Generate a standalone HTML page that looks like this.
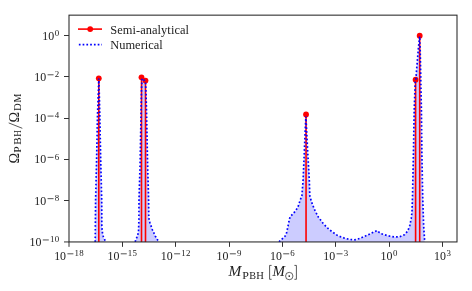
<!DOCTYPE html>
<html><head><meta charset="utf-8"><title>PBH abundance</title>
<style>
html,body{margin:0;padding:0;background:#fff;}
body{width:472px;height:291px;overflow:hidden;position:relative;font-family:"Liberation Serif",serif;}
.t{font-family:"Liberation Serif",serif;fill:#222;}
</style></head><body>
<svg width="472" height="291" viewBox="0 0 472 291" style="position:absolute;left:0;top:0;will-change:transform;opacity:0.999">
<rect x="0" y="0" width="472" height="291" fill="#fff"/>
<defs><clipPath id="ax"><rect x="69.0" y="15.15" width="388.0" height="226.79999999999998"/></clipPath></defs>
<g clip-path="url(#ax)">
<polygon points="95.2,241.9 95.3,232.0 95.6,200.0 96.6,160.0 97.5,115.0 98.4,90.0 98.8,78.6 99.2,90.0 99.8,115.0 100.7,160.0 101.7,200.0 101.8,226.0 102.3,232.0 103.4,237.0 105.8,241.9" fill="#0000ff" fill-opacity="0.2" stroke="none"/>
<polygon points="135.1,241.9 136.2,239.0 137.6,235.5 138.5,232.0 138.9,220.0 139.0,200.0 140.2,160.0 141.0,115.0 141.5,90.0 142.0,78.5 143.5,79.5 145.5,81.5 146.1,95.0 146.6,115.0 147.5,160.0 148.6,200.0 148.8,218.0 150.0,223.0 152.5,230.0 155.5,236.5 158.8,241.9" fill="#0000ff" fill-opacity="0.2" stroke="none"/>
<polygon points="279.0,241.9 281.5,239.5 284.5,236.8 286.1,234.8 287.0,231.0 287.8,227.2 288.8,222.0 290.0,217.0 292.5,214.2 295.4,211.1 298.0,206.9 300.2,200.1 301.9,195.8 303.1,180.0 304.4,150.0 305.3,128.0 305.9,116.5 306.5,128.0 307.6,150.0 309.3,180.0 309.8,195.8 311.5,201.8 314.4,209.4 318.3,217.0 323.4,223.8 329.3,229.7 337.8,235.7 344.6,238.2 349.7,239.4 353.6,239.9 356.5,239.5 360.3,238.2 367.1,235.3 373.9,232.0 376.9,230.6 380.7,233.6 387.5,235.7 394.2,237.0 399.3,236.9 404.4,234.8 407.8,230.9 409.8,225.5 411.2,218.7 412.0,212.0 412.5,197.0 413.4,155.0 414.2,110.0 415.2,82.0 415.9,79.0 417.0,65.0 418.5,47.0 419.7,36.5 420.2,50.0 420.8,80.0 421.4,110.0 421.9,155.0 422.7,197.0 423.6,225.0 424.7,241.9" fill="#0000ff" fill-opacity="0.2" stroke="none"/>
<line x1="98.8" y1="243.95" x2="98.8" y2="78.3" stroke="#ff0000" stroke-width="1.6"/>
<line x1="141.5" y1="243.95" x2="141.5" y2="77.3" stroke="#ff0000" stroke-width="1.6"/>
<line x1="145.5" y1="243.95" x2="145.5" y2="80.6" stroke="#ff0000" stroke-width="1.6"/>
<line x1="306.05" y1="243.95" x2="306.05" y2="114.5" stroke="#ff0000" stroke-width="1.6"/>
<line x1="415.6" y1="243.95" x2="415.6" y2="79.7" stroke="#ff0000" stroke-width="1.6"/>
<line x1="419.7" y1="243.95" x2="419.7" y2="35.7" stroke="#ff0000" stroke-width="1.6"/>
</g>
<circle cx="98.8" cy="78.3" r="2.9" fill="#ff0000"/>
<circle cx="141.5" cy="77.3" r="2.9" fill="#ff0000"/>
<circle cx="145.5" cy="80.6" r="2.9" fill="#ff0000"/>
<circle cx="306.05" cy="114.5" r="2.9" fill="#ff0000"/>
<circle cx="415.6" cy="79.7" r="2.9" fill="#ff0000"/>
<circle cx="419.7" cy="35.7" r="2.9" fill="#ff0000"/>
<g clip-path="url(#ax)">
<polyline points="95.2,241.9 95.3,232.0 95.6,200.0 96.6,160.0 97.5,115.0 98.4,90.0 98.8,78.6 99.2,90.0 99.8,115.0 100.7,160.0 101.7,200.0 101.8,226.0 102.3,232.0 103.4,237.0 105.8,241.9" fill="none" stroke="#0000ff" stroke-width="1.7" stroke-dasharray="1.7 2.07"/>
<polyline points="135.1,241.9 136.2,239.0 137.6,235.5 138.5,232.0 138.9,220.0 139.0,200.0 140.2,160.0 141.0,115.0 141.5,90.0 142.0,78.5 143.5,79.5 145.5,81.5 146.1,95.0 146.6,115.0 147.5,160.0 148.6,200.0 148.8,218.0 150.0,223.0 152.5,230.0 155.5,236.5 158.8,241.9" fill="none" stroke="#0000ff" stroke-width="1.7" stroke-dasharray="1.7 2.07"/>
<polyline points="279.0,241.9 281.5,239.5 284.5,236.8 286.1,234.8 287.0,231.0 287.8,227.2 288.8,222.0 290.0,217.0 292.5,214.2 295.4,211.1 298.0,206.9 300.2,200.1 301.9,195.8 303.1,180.0 304.4,150.0 305.3,128.0 305.9,116.5 306.5,128.0 307.6,150.0 309.3,180.0 309.8,195.8 311.5,201.8 314.4,209.4 318.3,217.0 323.4,223.8 329.3,229.7 337.8,235.7 344.6,238.2 349.7,239.4 353.6,239.9 356.5,239.5 360.3,238.2 367.1,235.3 373.9,232.0 376.9,230.6 380.7,233.6 387.5,235.7 394.2,237.0 399.3,236.9 404.4,234.8 407.8,230.9 409.8,225.5 411.2,218.7 412.0,212.0 412.5,197.0 413.4,155.0 414.2,110.0 415.2,82.0 415.9,79.0 417.0,65.0 418.5,47.0 419.7,36.5 420.2,50.0 420.8,80.0 421.4,110.0 421.9,155.0 422.7,197.0 423.6,225.0 424.7,241.9" fill="none" stroke="#0000ff" stroke-width="1.7" stroke-dasharray="1.7 2.07"/>
</g>
<rect x="69.0" y="15.15" width="388.0" height="226.79999999999998" fill="none" stroke="#262626" stroke-width="1.05"/>
<line x1="69.00" y1="241.95" x2="69.00" y2="246.85" stroke="#333" stroke-width="1"/>
<line x1="122.50" y1="241.95" x2="122.50" y2="246.85" stroke="#333" stroke-width="1"/>
<line x1="175.50" y1="241.95" x2="175.50" y2="246.85" stroke="#333" stroke-width="1"/>
<line x1="229.50" y1="241.95" x2="229.50" y2="246.85" stroke="#333" stroke-width="1"/>
<line x1="282.50" y1="241.95" x2="282.50" y2="246.85" stroke="#333" stroke-width="1"/>
<line x1="335.50" y1="241.95" x2="335.50" y2="246.85" stroke="#333" stroke-width="1"/>
<line x1="389.50" y1="241.95" x2="389.50" y2="246.85" stroke="#333" stroke-width="1"/>
<line x1="442.50" y1="241.95" x2="442.50" y2="246.85" stroke="#333" stroke-width="1"/>
<line x1="69.0" y1="35.50" x2="64.00" y2="35.50" stroke="#333" stroke-width="1"/>
<line x1="69.0" y1="76.50" x2="64.00" y2="76.50" stroke="#333" stroke-width="1"/>
<line x1="69.0" y1="118.50" x2="64.00" y2="118.50" stroke="#333" stroke-width="1"/>
<line x1="69.0" y1="159.50" x2="64.00" y2="159.50" stroke="#333" stroke-width="1"/>
<line x1="69.0" y1="200.50" x2="64.00" y2="200.50" stroke="#333" stroke-width="1"/>
<line x1="69.0" y1="241.95" x2="64.00" y2="241.95" stroke="#333" stroke-width="1"/>
<text x="54.16" y="259.90" font-size="11.8" class="t" textLength="11.90" lengthAdjust="spacingAndGlyphs">10</text><line x1="67.40" y1="253.80" x2="73.40" y2="253.80" stroke="#1a1a1a" stroke-width="0.75"/><text x="74.50 79.25" y="256.10" font-size="8.9" class="t">18</text>
<text x="107.52" y="259.90" font-size="11.8" class="t" textLength="11.90" lengthAdjust="spacingAndGlyphs">10</text><line x1="120.76" y1="253.80" x2="126.76" y2="253.80" stroke="#1a1a1a" stroke-width="0.75"/><text x="127.86 132.61" y="256.10" font-size="8.9" class="t">15</text>
<text x="160.87" y="259.90" font-size="11.8" class="t" textLength="11.90" lengthAdjust="spacingAndGlyphs">10</text><line x1="174.11" y1="253.80" x2="180.11" y2="253.80" stroke="#1a1a1a" stroke-width="0.75"/><text x="181.21 185.96" y="256.10" font-size="8.9" class="t">12</text>
<text x="216.60" y="259.90" font-size="11.8" class="t" textLength="11.90" lengthAdjust="spacingAndGlyphs">10</text><line x1="229.84" y1="253.80" x2="235.84" y2="253.80" stroke="#1a1a1a" stroke-width="0.75"/><text x="236.94" y="256.10" font-size="8.9" class="t">9</text>
<text x="269.96" y="259.90" font-size="11.8" class="t" textLength="11.90" lengthAdjust="spacingAndGlyphs">10</text><line x1="283.19" y1="253.80" x2="289.19" y2="253.80" stroke="#1a1a1a" stroke-width="0.75"/><text x="290.29" y="256.10" font-size="8.9" class="t">6</text>
<text x="323.31" y="259.90" font-size="11.8" class="t" textLength="11.90" lengthAdjust="spacingAndGlyphs">10</text><line x1="336.55" y1="253.80" x2="342.55" y2="253.80" stroke="#1a1a1a" stroke-width="0.75"/><text x="343.65" y="256.10" font-size="8.9" class="t">3</text>
<text x="380.62" y="259.90" font-size="11.8" class="t" textLength="11.90" lengthAdjust="spacingAndGlyphs">10</text><text x="393.05" y="256.10" font-size="8.9" class="t">0</text>
<text x="433.97" y="259.90" font-size="11.8" class="t" textLength="11.90" lengthAdjust="spacingAndGlyphs">10</text><text x="446.41" y="256.10" font-size="8.9" class="t">3</text>
<text x="42.21" y="39.60" font-size="11.8" class="t" textLength="11.90" lengthAdjust="spacingAndGlyphs">10</text><text x="54.65" y="35.80" font-size="8.9" class="t">0</text>
<text x="34.31" y="80.89" font-size="11.8" class="t" textLength="11.90" lengthAdjust="spacingAndGlyphs">10</text><line x1="47.55" y1="74.79" x2="53.55" y2="74.79" stroke="#1a1a1a" stroke-width="0.75"/><text x="54.65" y="77.09" font-size="8.9" class="t">2</text>
<text x="34.31" y="122.18" font-size="11.8" class="t" textLength="11.90" lengthAdjust="spacingAndGlyphs">10</text><line x1="47.55" y1="116.08" x2="53.55" y2="116.08" stroke="#1a1a1a" stroke-width="0.75"/><text x="54.65" y="118.38" font-size="8.9" class="t">4</text>
<text x="34.31" y="163.47" font-size="11.8" class="t" textLength="11.90" lengthAdjust="spacingAndGlyphs">10</text><line x1="47.55" y1="157.37" x2="53.55" y2="157.37" stroke="#1a1a1a" stroke-width="0.75"/><text x="54.65" y="159.67" font-size="8.9" class="t">6</text>
<text x="34.31" y="204.76" font-size="11.8" class="t" textLength="11.90" lengthAdjust="spacingAndGlyphs">10</text><line x1="47.55" y1="198.66" x2="53.55" y2="198.66" stroke="#1a1a1a" stroke-width="0.75"/><text x="54.65" y="200.96" font-size="8.9" class="t">8</text>
<text x="29.56" y="246.05" font-size="11.8" class="t" textLength="11.90" lengthAdjust="spacingAndGlyphs">10</text><line x1="42.80" y1="239.95" x2="48.80" y2="239.95" stroke="#1a1a1a" stroke-width="0.75"/><text x="49.90 54.65" y="242.25" font-size="8.9" class="t">10</text>
<line x1="78" y1="29.1" x2="102" y2="29.1" stroke="#ff0000" stroke-width="1.6"/>
<circle cx="90.2" cy="29.1" r="2.9" fill="#ff0000"/>
<line x1="78.85" y1="44.7" x2="102" y2="44.7" stroke="#0000ff" stroke-width="1.7" stroke-dasharray="1.7 2.07"/>
<text x="110.2" y="33.6" font-size="12.4" class="t" textLength="78.8" lengthAdjust="spacing">Semi-analytical</text>
<text x="110.2" y="49.0" font-size="12.4" class="t" textLength="52.6" lengthAdjust="spacing">Numerical</text>
<text transform="translate(228.48,275.70) scale(1.083,1)" font-size="14.20" font-style="italic" class="t">M</text><text transform="translate(242.35,278.80) scale(1.099,1)" font-size="10.84" class="t">P</text><text transform="translate(249.30,278.80) scale(0.940,1)" font-size="10.84" class="t">B</text><text transform="translate(256.19,278.80) scale(0.973,1)" font-size="10.84" class="t">H</text><path d="M271.6,265.4H269.6V279.3H271.6" fill="none" stroke="#222" stroke-width="0.75"/><text transform="translate(272.58,275.70) scale(1.051,1)" font-size="14.20" font-style="italic" class="t">M</text><circle cx="289.25" cy="276.05" r="3.7" fill="none" stroke="#222" stroke-width="0.7"/><circle cx="289.25" cy="276.05" r="0.85" fill="#222"/><path d="M294.4,265.4H296.4V279.3H294.4" fill="none" stroke="#222" stroke-width="0.75"/>
<g transform="translate(19.2,163.9) rotate(-90)"><text transform="translate(0.46,0.00) scale(0.952,1)" font-size="14.95" class="t">Ω</text><text transform="translate(11.17,1.85) scale(1.076,1)" font-size="10.69" class="t">P</text><text transform="translate(19.18,1.85) scale(1.049,1)" font-size="10.69" class="t">B</text><text transform="translate(27.04,1.85) scale(0.846,1)" font-size="10.69" class="t">H</text><line x1="35.6" y1="3.1" x2="41.0" y2="-10.5" stroke="#222" stroke-width="0.75"/><text transform="translate(41.46,0.00) scale(0.952,1)" font-size="14.95" class="t">Ω</text><text transform="translate(52.99,1.85) scale(1.003,1)" font-size="10.69" class="t">D</text><text transform="translate(61.31,1.85) scale(0.935,1)" font-size="10.69" class="t">M</text></g>
</svg>
</body></html>
